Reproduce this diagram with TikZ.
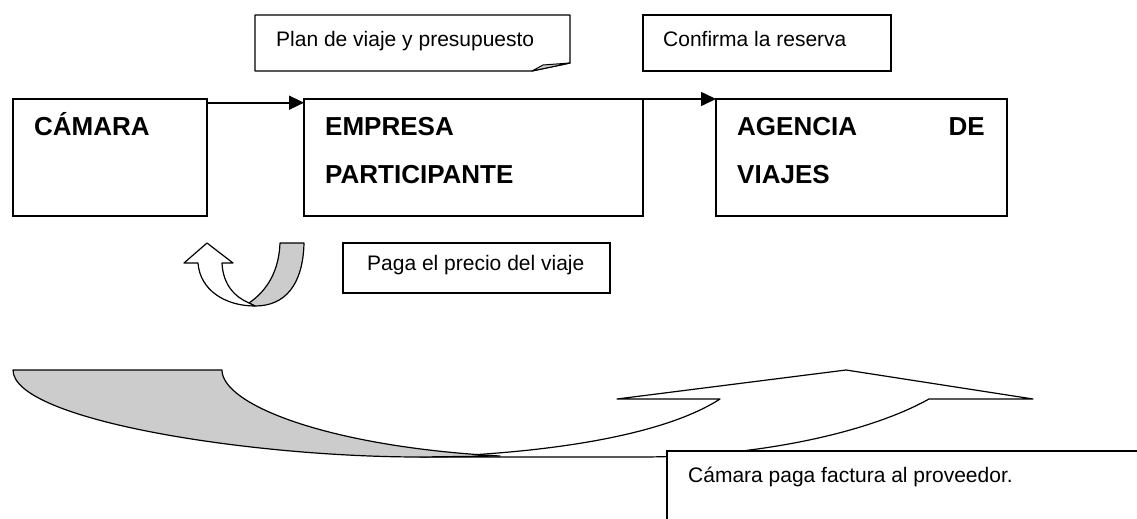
\documentclass[tikz,border=0pt]{standalone}
\usepackage{fontspec}
\setmainfont{Liberation Sans}
\usetikzlibrary{arrows.meta}
\definecolor{shadegray}{HTML}{CCCCCC}
\begin{document}
\begin{tikzpicture}[x=1pt,y=-1pt,
  box/.style={draw,line width=1.3pt,inner sep=0pt,outer sep=0pt,anchor=north west,fill=white},
  big/.style={font=\fontsize{26}{30}\selectfont\bfseries,anchor=base west,inner sep=0pt},
  small/.style={font=\fontsize{21}{25}\selectfont,anchor=base west,inner sep=0pt},
  conn/.style={line width=1.6pt,-{Triangle[length=15pt,width=14pt]}},
  outlineshape/.style={line width=1.2pt,line join=round}]
\useasboundingbox (0,0) rectangle (1137,519);
\clip (0,0) rectangle (1137,519);
\fill[white] (0,0) rectangle (1137,519);

% main boxes
\node[box,minimum width=194pt,minimum height=117pt] (camara) at (13,99) {};
\node[box,minimum width=339pt,minimum height=117pt] (empresa) at (304,99) {};
\node[box,minimum width=291pt,minimum height=117pt] (agencia) at (716,99) {};

% note with folded corner
\draw[outlineshape,line width=1.3pt,fill=white] (255,15) -- (570,15) -- (570,63) -- (532,71) -- (255,71) -- cycle;
\draw[outlineshape,line width=1pt,fill=shadegray] (532,71) -- (543,65) -- (570,63) -- cycle;
\node[box,minimum width=248pt,minimum height=56pt] (confirma) at (643,15) {};
\node[box,minimum width=267pt,minimum height=50pt] (paga) at (343,243) {};

% connectors
\draw[conn] ([yshift=-3.7pt]camara.north east) -- ([yshift=-3.7pt]empresa.north west);
\draw[conn] (empresa.north east) -- (agencia.north west);

% U-turn arrow
\draw[outlineshape,fill=shadegray] (280,243) -- (304,243) .. controls (303,285) and (285,306) .. (255,306)
  -- (249,303) .. controls (268,290) and (279,270) .. (280,243) -- cycle;
\draw[outlineshape,fill=white] (207,243) -- (233,263) -- (222,263) .. controls (223,285) and (235,297) .. (249,303)
  -- (255,306) .. controls (225,306) and (200,290) .. (198,263) -- (184,263) -- cycle;

% big curved arrow
\draw[outlineshape,fill=white] (420,457) -- (640,457) .. controls (760,457) and (870,432) .. (929,399)
  -- (1033,399) -- (846,370) -- (617,399) -- (720,399)
  .. controls (680,425) and (600,447) .. (470,455) -- cycle;
\draw[outlineshape,fill=shadegray] (13,370) -- (222,370) .. controls (222,405) and (330,447) .. (500,456)
  -- (420,457) .. controls (250,457) and (13,420) .. (13,370) -- cycle;

\node[box,minimum width=490pt,minimum height=90pt] (factura) at (667,451) {};

% texts
\node[big] (tcamara) at (34,135) {CÁMARA};
\node[big] (tempresa) at (325,135) {EMPRESA};
\node[big] (tparticipante) at (325,183) {PARTICIPANTE};
\node[big] (tagencia) at (737,135) {AGENCIA};
\node[big,anchor=base east] (tde) at (985,135) {DE};
\node[big] (tviajes) at (737,183) {VIAJES};
\node[small] (tplan) at (276,47) {Plan de viaje y presupuesto};
\node[small] (tconfirma) at (663,47) {Confirma la reserva};
\node[small] (tpaga) at (367,270) {Paga el precio del viaje};
\node[small] (tfactura) at (688,482) {Cámara paga factura al proveedor.};
\end{tikzpicture}
\end{document}
